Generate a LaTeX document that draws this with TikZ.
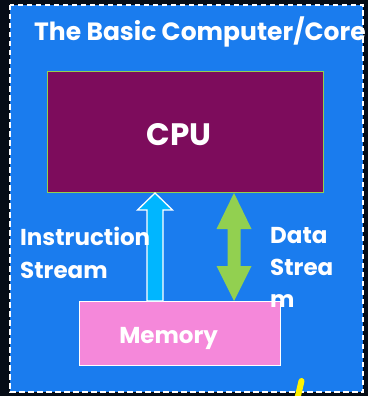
\documentclass[tikz,border=0pt]{standalone}
\usepackage{fontspec}
\setmainfont{Poppins}
\usetikzlibrary{calc}
\definecolor{bgdark}{HTML}{050C16}
\definecolor{slideblue}{HTML}{1A7CEE}
\definecolor{cpupurple}{HTML}{7D0C5C}
\definecolor{cpugreen}{HTML}{92D050}
\definecolor{mempink}{HTML}{F588DA}
\definecolor{instcyan}{HTML}{00B6FF}
\definecolor{hiyellow}{HTML}{FFF200}
\tikzset{
  boxstyle/.style={draw, rectangle, inner sep=0pt, anchor=north west},
  labeltext/.style={text=white, font=\bfseries, inner sep=0pt, anchor=base west, align=left},
}
\begin{document}
\begin{tikzpicture}[x=1pt,y=-1pt]
\useasboundingbox (0,0) rectangle (368,396);
\fill[bgdark] (0,0) rectangle (368,396);
\fill[slideblue] (10,5) rectangle (363,392);
% title
\node[labeltext, font=\fontsize{25}{30}\selectfont\bfseries] (title) at (34,41) {The Basic Computer/Core};
% CPU box
\node[boxstyle, fill=cpupurple, draw=cpugreen, line width=1pt, minimum width=276pt, minimum height=121pt] (cpu) at (47,71) {};
\node[text=white, font=\fontsize{31}{36}\selectfont\bfseries, inner sep=0pt, anchor=base] (cputext) at ($(cpu.center)+(-6.5,13.5)$) {CPU};
% Memory box
\node[boxstyle, fill=mempink, draw=white, line width=1.2pt, minimum width=201pt, minimum height=64pt] (mem) at (79,301) {};
\node[text=white, font=\fontsize{23}{28}\selectfont\bfseries, inner sep=0pt, anchor=base] (memtext) at ($(mem.center)+(-11.5,10)$) {Memory};
% instruction arrow (memory -> cpu)
\coordinate (itip) at (cpu.south -| 155,0);
\coordinate (ibase) at (mem.north -| 155,0);
\filldraw[fill=instcyan, draw=white, line width=1.3pt]
  (itip) -- ($(itip)+(17.5,17)$) -- ($(itip)+(8,17)$) -- ($(ibase)+(8,0)$)
  -- ($(ibase)+(-8,0)$) -- ($(itip)+(-8,17)$) -- ($(itip)+(-17.5,17)$) -- cycle;
% data arrow (double)
\coordinate (dtop) at (cpu.south -| 234,0);
\coordinate (dbot) at (mem.north -| 234,0);
\fill[cpugreen]
  (dtop) -- ($(dtop)+(17.5,36)$) -- ($(dtop)+(6.5,36)$) -- ($(dbot)+(6.5,-35)$)
  -- ($(dbot)+(17.5,-35)$) -- (dbot) -- ($(dbot)+(-17.5,-35)$) -- ($(dbot)+(-6.5,-35)$)
  -- ($(dtop)+(-6.5,36)$) -- ($(dtop)+(-17.5,36)$) -- cycle;
% labels
\node[labeltext, font=\fontsize{23}{33}\selectfont\bfseries] (instlabel) at (20,278) {Instruction\\Stream};
\node[labeltext, font=\fontsize{23}{32}\selectfont\bfseries] (datalabel) at (270,307) {Data\\Strea\\m};
% dashed border
\draw[white, line width=2.5pt, dash pattern=on 5.5pt off 3.5pt] (10,5) rectangle (363,392);
% yellow pen stroke
\coordinate (ya) at (301.5,381);
\coordinate (yb) at (297,400);
\draw[hiyellow, line width=6pt, line cap=round] (ya) -- (yb);
\end{tikzpicture}
\end{document}
